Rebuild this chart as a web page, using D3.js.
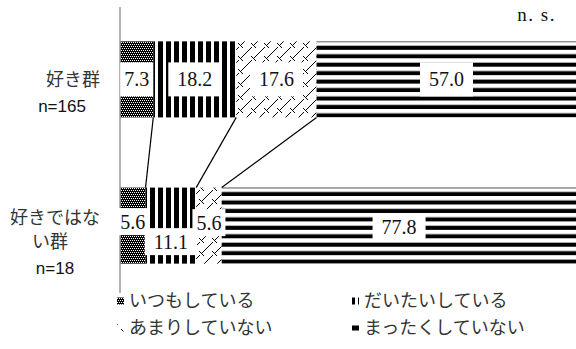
<!DOCTYPE html>
<html>
<head>
<meta charset="utf-8">
<script src="https://cdn.jsdelivr.net/npm/d3@7"></script>
<style>
  body { margin: 0; background: #fff; }
  svg { display: block; }
</style>
</head>
<body>
<div id="chart"></div>
<script>
// data
var categories = ["好き群", "好きではない群"];
var categoryLines = [["好き群"], ["好きではな", "い群"]];
var nLabels = ["n=165", "n=18"];
var seriesNames = ["いつもしている", "だいたいしている", "あまりしていない", "まったくしていない"];
var sukiValues = [7.3, 18.2, 17.6, 57.0];
var notSukiValues = [5.6, 11.1, 5.6, 77.8];
var xDomain = [0, 100];
var testLabel = "n. s.";

var width = 576, height = 349;
var jpFont = "'Noto Sans CJK JP', sans-serif";
var serifFont = "'Liberation Serif', 'DejaVu Serif', serif";

var rows = categories.map(function(c, i) {
    var r = {cat: c};
    var vals = i === 0 ? sukiValues : notSukiValues;
    seriesNames.forEach(function(s, j) { r[s] = vals[j]; });
    return r;
});

var x = d3.scaleLinear().domain(xDomain).range([120, 576]);
var y = d3.scaleBand().domain(categories).range([7, 298])
    .paddingInner(0.48).paddingOuter(0.235);
var bw = y.bandwidth();

var stacked = d3.stack().keys(seriesNames)(rows);

var svg = d3.select("#chart").append("svg")
    .attr("width", width)
    .attr("height", height);

var defs = svg.append("defs");

// pattern 0: fine dotted black
var p0 = defs.append("pattern").attr("id", "pat0")
    .attr("patternUnits", "userSpaceOnUse").attr("width", 4).attr("height", 4);
p0.append("rect").attr("width", 4).attr("height", 4).attr("fill", "#000");
[[0, 0], [2, 0], [1, 2], [3, 2]].forEach(function(p) {
    p0.append("rect").attr("x", p[0]).attr("y", p[1]).attr("width", 1).attr("height", 1).attr("fill", "#fff");
});

// pattern 1: vertical stripes
var p1 = defs.append("pattern").attr("id", "pat1")
    .attr("patternUnits", "userSpaceOnUse").attr("x", 6).attr("width", 8).attr("height", 8);
p1.append("rect").attr("width", 8).attr("height", 8).attr("fill", "#fff");
p1.append("rect").attr("width", 5).attr("height", 8).attr("fill", "#000");

// pattern 2: zigzag crosses
var p2 = defs.append("pattern").attr("id", "pat2")
    .attr("patternUnits", "userSpaceOnUse").attr("width", 13).attr("height", 13);
p2.append("rect").attr("width", 13).attr("height", 13).attr("fill", "#fff");
p2.append("path").attr("d", "M0,13L5,8M7,6L13,0M4,4L9,9")
    .attr("stroke", "#000").attr("stroke-width", 1).attr("fill", "none");

// pattern 3: horizontal stripes, one per bar so the stripes line up with the bar
categories.forEach(function(c, i) {
    var h = bw / 9;
    var p3 = defs.append("pattern").attr("id", "pat3_" + i)
        .attr("patternUnits", "userSpaceOnUse")
        .attr("y", y(c)).attr("width", 8).attr("height", h);
    p3.append("rect").attr("width", 8).attr("height", h).attr("fill", "#fff");
    p3.append("rect").attr("y", h * 0.52).attr("width", 8).attr("height", h * 0.48).attr("fill", "#000");
});
var pat3Legend = defs.append("pattern").attr("id", "pat3L")
    .attr("patternUnits", "userSpaceOnUse").attr("width", 8).attr("height", 8);
pat3Legend.append("rect").attr("width", 8).attr("height", 8).attr("fill", "#000");

function fillFor(j, i) {
    return j === 3 ? "url(#pat3_" + i + ")" : "url(#pat" + j + ")";
}

// bars
var layer = svg.selectAll(".layer")
    .data(stacked)
    .enter().append("g")
    .attr("class", "layer");

layer.selectAll("rect")
    .data(function(d) { return d.map(function(v, i) { return {v: v, i: i, j: d.index}; }); })
    .enter().append("rect")
    .attr("x", function(d) { return x(d.v[0]); })
    .attr("y", function(d) { return y(categories[d.i]); })
    .attr("width", function(d) { return x(d.v[1]) - x(d.v[0]); })
    .attr("height", bw)
    .attr("fill", function(d) { return fillFor(d.j, d.i); });

// thin top edge on the last segment
layer.filter(function(d) { return d.index === 3; })
    .selectAll("line.edge")
    .data(function(d) { return d; })
    .enter().append("line")
    .attr("class", "edge")
    .attr("x1", function(d) { return x(d[0]); })
    .attr("x2", function(d) { return x(d[1]); })
    .attr("y1", function(d) { return y(d.data.cat) + 0.5; })
    .attr("y2", function(d) { return y(d.data.cat) + 0.5; })
    .attr("stroke", "#777").attr("stroke-width", 1);

// axis line
svg.append("line")
    .attr("x1", x(0)).attr("x2", x(0))
    .attr("y1", 7).attr("y2", 293)
    .attr("stroke", "#999").attr("stroke-width", 1.5);

// series lines between the two bars
for (var j = 0; j < seriesNames.length - 1; j++) {
    svg.append("line")
        .attr("x1", x(stacked[j][0][1])).attr("y1", y(categories[0]) + bw)
        .attr("x2", x(stacked[j][1][1])).attr("y2", y(categories[1]))
        .attr("stroke", "#000").attr("stroke-width", 1.2);
}

// value labels with white boxes
var labelNudge = [[0, 0, 0, 0], [-4, 16, -3, 1]];
var boxH = [34, 27];
stacked.forEach(function(s, j) {
    s.forEach(function(v, i) {
        var cx = x((v[0] + v[1]) / 2);
        var cy = y(categories[i]) + bw / 2 + labelNudge[i][j];
        var g = svg.append("g");
        var rect = g.append("rect").attr("fill", "#fff");
        var t = g.append("text")
            .attr("x", cx).attr("y", cy)
            .attr("dy", "0.35em")
            .attr("text-anchor", "middle")
            .attr("font-family", serifFont)
            .attr("font-size", 20)
            .attr("fill", "#111")
            .text(d3.format(".1f")(v[1] - v[0]));
        var tw = t.node().getComputedTextLength();
        var pad = (x(v[1]) - x(v[0])) < 45 ? 4 : 9;
        rect.attr("x", cx - tw / 2 - pad).attr("y", cy - boxH[i] / 2)
            .attr("width", tw + pad * 2).attr("height", boxH[i]);
    });
});

// category labels
var catLayout = [
    [{x: 100, dy: 0, anchor: "end"}],
    [{x: 100, dy: -8, anchor: "end"}, {x: 50, dy: 16, anchor: "middle"}]
];
var nLayout = [{x: 62, dy: 27}, {x: 55, dy: 42}];
categories.forEach(function(c, i) {
    var cy = y(c) + bw / 2;
    categoryLines[i].forEach(function(line, k) {
        svg.append("text")
            .attr("x", catLayout[i][k].x)
            .attr("y", cy + catLayout[i][k].dy)
            .attr("dy", "0.35em")
            .attr("text-anchor", catLayout[i][k].anchor)
            .attr("font-family", jpFont)
            .attr("font-size", 18)
            .attr("fill", "#333")
            .text(line);
    });
    svg.append("text")
        .attr("x", nLayout[i].x)
        .attr("y", cy + nLayout[i].dy)
        .attr("dy", "0.35em")
        .attr("text-anchor", "middle")
        .attr("font-family", "'Liberation Sans', Arial, sans-serif")
        .attr("font-size", 17)
        .attr("fill", "#111")
        .text(nLabels[i]);
});

// n. s.
svg.append("text")
    .attr("x", 556).attr("y", 21)
    .attr("text-anchor", "end")
    .attr("font-family", serifFont)
    .attr("font-size", 19)
    .attr("letter-spacing", 1.5)
    .attr("fill", "#111")
    .text(testLabel);

// legend, 2 x 2
var legendPos = [[117, 301], [352, 301], [117, 328], [352, 328]];
var legendOrder = [0, 1, 2, 3];
legendOrder.forEach(function(j, k) {
    var p = legendPos[k];
    var sw = j === 3 ? {w: 7, h: 5} : {w: 7, h: 7};
    svg.append("rect")
        .attr("x", p[0]).attr("y", p[1] - sw.h / 2)
        .attr("width", sw.w).attr("height", sw.h)
        .attr("fill", j === 3 ? "url(#pat3L)" : "url(#pat" + j + ")");
    svg.append("text")
        .attr("x", p[0] + 12).attr("y", p[1])
        .attr("dy", "0.35em")
        .attr("font-family", jpFont)
        .attr("font-size", 18)
        .attr("fill", "#333")
        .text(seriesNames[j]);
});
</script>
</body>
</html>
